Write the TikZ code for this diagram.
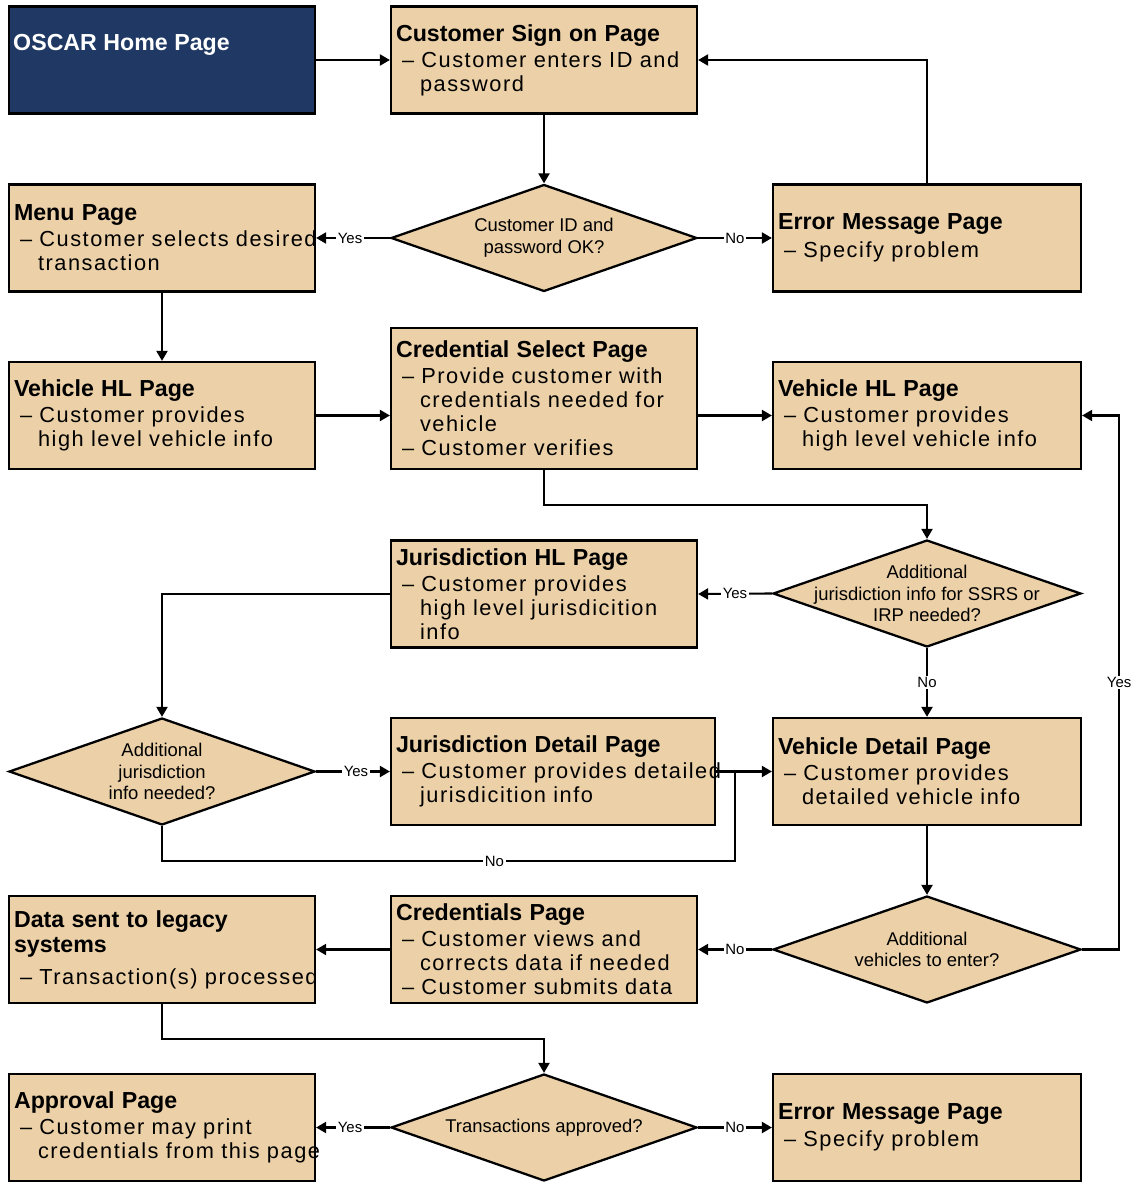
\documentclass[tikz,border=0pt]{standalone}
\usepackage{fontspec}
\setmainfont{Liberation Sans}
\newfontfamily\bodyfam[LetterSpace=7]{Liberation Sans}
\usetikzlibrary{shapes.geometric}
\usetikzlibrary{arrows.meta}

\definecolor{pagetan}{RGB}{236,209,168}
\definecolor{homenavy}{RGB}{32,56,100}

\newcommand{\titlefont}{\normalfont\fontsize{13.2}{13.6}\selectfont\bfseries}
\newcommand{\bodytext}{\bodyfam\fontsize{12.4}{13.66}\selectfont}
\newcommand{\asktext}{\fontsize{10.5}{12.3}\selectfont}
\newcommand{\pgtitle}[1]{{\titlefont #1}}
\newcommand{\itm}[1]{\mbox{\hspace*{0.12cm}\textendash\ #1}}
\newcommand{\cnt}[1]{\mbox{\hspace*{0.48cm}#1}}

\begin{document}
\begin{tikzpicture}[x=0.02cm, y=-0.02cm, >={Triangle[length=0.2cm, width=0.22cm]}]
\tikzstyle{pagebox}=[draw=black, line width=1.3pt, fill=pagetan, rectangle, minimum width=6.12cm, minimum height=2.14cm, text width=5.92cm, inner xsep=0.1cm, align=left, font=\bodytext]
\tikzstyle{widebox}=[pagebox, minimum width=6.16cm, text width=5.96cm]
\tikzstyle{askbox}=[draw=black, line width=1.3pt, fill=pagetan, diamond, minimum width=6.12cm, minimum height=2.14cm, inner sep=0pt]
\tikzstyle{asklbl}=[align=center, font=\asktext]
\tikzstyle{lbl}=[fill=white, inner sep=1pt, font=\fontsize{8.5}{9}\selectfont]
\tikzstyle{link}=[line width=1.2pt, ->]
\useasboundingbox (0,0) rectangle (1133,1182);

% first row
\node[pagebox, fill=homenavy, label={[anchor=base west, inner sep=0pt, text=white, font=\titlefont, xshift=0.1cm, yshift=-0.9cm]north west:OSCAR Home Page}] (home) at (162,60) {};
\node[pagebox] (signon) at (544,60) {\pgtitle{Customer Sign on Page}\\[1pt] \itm{Customer enters ID and}\\ \cnt{password}};

% sign on check
\node[pagebox] (menu) at (162,238) {\pgtitle{Menu Page}\\[1pt] \itm{Customer selects desired}\\ \cnt{transaction}};
\node[askbox, label={[asklbl]center:Customer ID and\\password OK?}] (check) at (544,238) {};
\node[widebox] (error1) at (927,238) {\pgtitle{Error Message Page}\\[2pt] \itm{Specify problem}};

% vehicle high level
\node[pagebox] (vhl1) at (162,415.5) {\pgtitle{Vehicle HL Page}\\[1pt] \itm{Customer provides}\\ \cnt{high level vehicle info}};
\node[pagebox, minimum height=2.82cm] (credsel) at (544,398.5) {\pgtitle{Credential Select Page}\\[1pt] \itm{Provide customer with}\\ \cnt{credentials needed for}\\ \cnt{vehicle}\\ \itm{Customer verifies}};
\node[widebox] (vhl2) at (927,415.5) {\pgtitle{Vehicle HL Page}\\[1pt] \itm{Customer provides}\\ \cnt{high level vehicle info}};

% jurisdiction
\node[pagebox] (jurhl) at (544,594) {\pgtitle{Jurisdiction HL Page}\\[1pt] \itm{Customer provides}\\ \cnt{high level jurisdicition}\\ \cnt{info}};
\node[askbox, minimum width=6.16cm, label={[asklbl]center:Additional\\jurisdiction info for SSRS or\\IRP needed?}] (addjur1) at (927,593.5) {};
\node[askbox, label={[asklbl]center:Additional\\jurisdiction\\info needed?}] (addjur2) at (162,771.5) {};
\node[pagebox, minimum width=6.48cm, text width=6.28cm] (jurdet) at (553,771.5) {\pgtitle{Jurisdiction Detail Page}\\[1pt] \itm{Customer provides detailed}\\ \cnt{jurisdicition info}};
\node[widebox] (vdet) at (927,771.5) {\pgtitle{Vehicle Detail Page}\\[1pt] \itm{Customer provides}\\ \cnt{detailed vehicle info}};

% submit
\node[pagebox] (datasent) at (162,949.5) {\pgtitle{Data sent to legacy}\\[1pt] \pgtitle{systems}\\[0.15cm] \itm{Transaction(s) processed}};
\node[pagebox] (credpage) at (544,949.5) {\pgtitle{Credentials Page}\\[1pt] \itm{Customer views and}\\ \cnt{corrects data if needed}\\ \itm{Customer submits data}};
\node[askbox, minimum width=6.16cm, label={[asklbl]center:Additional\\vehicles to enter?}] (addveh) at (927,949.5) {};

% approval
\node[pagebox] (approval) at (162,1127.5) {\pgtitle{Approval Page}\\[1pt] \itm{Customer may print}\\ \cnt{credentials from this page}};
\node[askbox, label={[asklbl]center:Transactions approved?}] (approved) at (544,1127.5) {};
\node[widebox] (error2) at (927,1127.5) {\pgtitle{Error Message Page}\\[2pt] \itm{Specify problem}};

% connectors
\draw[link] (home.east) -- (signon.west);
\draw[link] (signon.south) -- (check.north);
\draw[link] (check.west) -- (menu.east) node[lbl, pos=0.54] {Yes};
\draw[link] (check.east) -- (error1.west) node[lbl, pos=0.5] {No};
\draw[link] (error1.north) |- (signon.east);
\draw[link] (menu.south) -- (vhl1.north);
\draw[link] (vhl1.east) -- (vhl1.east -| credsel.west);
\draw[link] (vhl2.west -| credsel.east) -- (vhl2.west);
\draw[link] (credsel.south) -- ++(0,35) -| (addjur1.north);
\draw[link] (addjur1.west) -- (jurhl.east) node[lbl, pos=0.5] {Yes};
\draw[link] (addjur1.south) -- (vdet.north) node[lbl, pos=0.5] {No};
\draw[link] (jurhl.west) -| (addjur2.north);
\draw[link] (addjur2.east) -- (jurdet.west) node[lbl, pos=0.54] {Yes};
\coordinate (merge) at (735,771.5);
\draw[line width=1.2pt] (addjur2.south) -- ++(0,35) -| (merge) node[lbl, pos=0.29] {No};
\draw[link] (jurdet.east) -- (vdet.west);
\draw[link] (vdet.south) -- (addveh.north);
\draw[link] (addveh.east) -- ++(37,0) |- (vhl2.east) node[lbl, pos=0.25] {Yes};
\draw[link] (addveh.west) -- (credpage.east) node[lbl, pos=0.5] {No};
\draw[link] (credpage.west) -- (datasent.east);
\draw[link] (datasent.south) -- ++(0,35) -| (approved.north);
\draw[link] (approved.west) -- (approval.east) node[lbl, pos=0.54] {Yes};
\draw[link] (approved.east) -- (error2.west) node[lbl, pos=0.5] {No};
\end{tikzpicture}
\end{document}
